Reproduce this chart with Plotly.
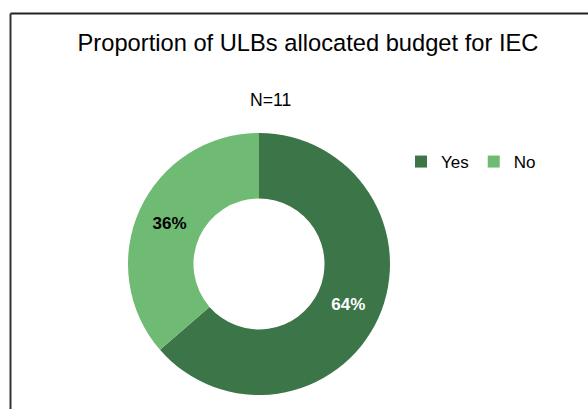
import plotly.graph_objects as go

# Survey result: ULBs that set aside budget for IEC activities
categories = ["Yes", "No"]
counts = [7, 4]
slice_colors = ["#3b7548", "#6fbb74"]
label_colors = ["#ffffff", "#000000"]
sample_note = "N=11"
chart_title = "Proportion of ULBs allocated budget for IEC"

W, H = 588, 409

fig = go.Figure(
    go.Pie(
        labels=categories,
        values=counts,
        hole=0.5,
        sort=False,
        direction="clockwise",
        rotation=0,
        marker=dict(colors=slice_colors, line=dict(width=0)),
        textinfo="percent",
        texttemplate="%{percent:.0%}",
        textposition="inside",
        insidetextorientation="horizontal",
        insidetextfont=dict(family="Liberation Sans, Arial", size=17,
                            color=label_colors, weight="bold"),
        domain=dict(x=[128 / W, 390 / W], y=[1 - 395 / H, 1 - 133 / H]),
        showlegend=True,
    )
)

fig.update_layout(
    width=W,
    height=H,
    margin=dict(l=0, r=0, t=0, b=0),
    paper_bgcolor="white",
    plot_bgcolor="white",
    font=dict(family="Liberation Sans, Arial", color="#000000"),
    title=dict(
        text=chart_title,
        x=308 / W,
        xanchor="center",
        y=1 - 43 / H,
        yanchor="middle",
        font=dict(size=23.7, color="#000000"),
    ),
    legend=dict(
        orientation="h",
        x=401 / W,
        xanchor="left",
        y=1 - 162 / H,
        yanchor="middle",
        font=dict(size=17, color="#000000"),
        bgcolor="rgba(0,0,0,0)",
    ),
    annotations=[
        dict(
            text=sample_note,
            x=270 / W,
            y=1 - 100 / H,
            xref="paper",
            yref="paper",
            xanchor="center",
            yanchor="middle",
            showarrow=False,
            font=dict(size=17.6, color="#000000"),
        )
    ],
    shapes=[
        # frame: top and left edges only
        dict(type="line", xref="paper", yref="paper",
             x0=10.5 / W, x1=1, y0=1 - 13.5 / H, y1=1 - 13.5 / H,
             line=dict(color="#222222", width=2)),
        dict(type="line", xref="paper", yref="paper",
             x0=10.5 / W, x1=10.5 / W, y0=0, y1=1 - 13.5 / H,
             line=dict(color="#333333", width=2)),
    ],
)

fig.write_html("out.html")
